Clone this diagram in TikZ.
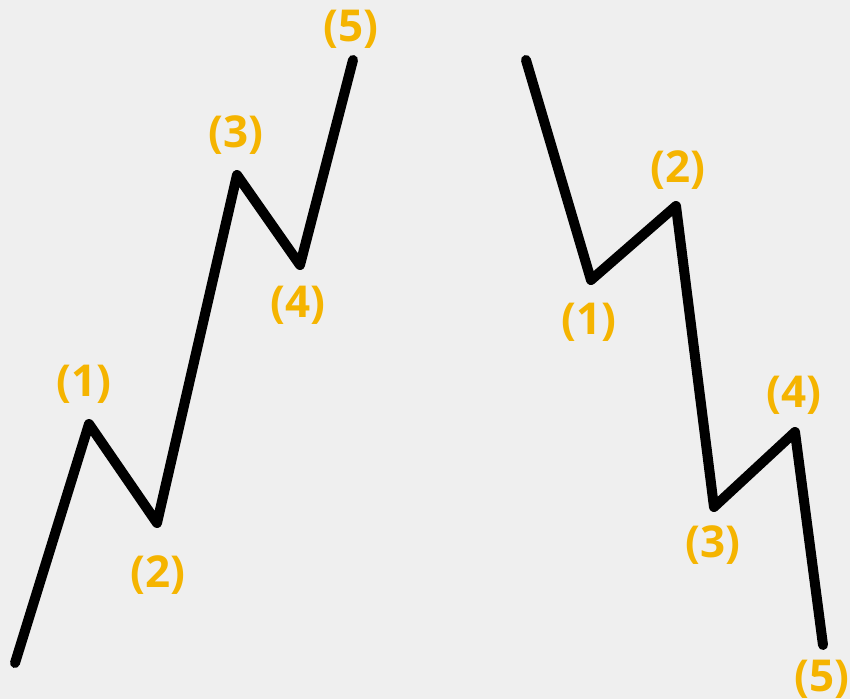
\documentclass[tikz,border=0pt]{standalone}
\usepackage{fontspec}
\setmainfont{Open Sans}
\definecolor{waveorange}{HTML}{F5B400}
\definecolor{bggray}{HTML}{EFEFEF}
\begin{document}
\begin{tikzpicture}[x=0.01cm,y=-0.01cm,
  wave/.style={line width=2.85pt,line cap=round,line join=round},
  lbl/.style={text=waveorange,font=\fontsize{12.5}{14}\selectfont\bfseries,inner sep=0pt}]
\fill[bggray] (0,0) rectangle (850,699);
\useasboundingbox (0,0) rectangle (850,699);
% impulse up
\coordinate (u0) at (15,663);
\coordinate (u1) at (89,424);
\coordinate (u2) at (157,523);
\coordinate (u3) at (237,175);
\coordinate (u4) at (300,265);
\coordinate (u5) at (353,60);
\draw[wave] (u0) -- (u1) -- (u2) -- (u3) -- (u4) -- (u5);
\node[lbl] (lu1) at (84,384) {(1)};
\node[lbl] (lu2) at (158,575) {(2)};
\node[lbl] (lu3) at (236,135) {(3)};
\node[lbl] (lu4) at (298,305) {(4)};
\node[lbl] (lu5) at (351,29) {(5)};
% impulse down
\coordinate (d0) at (526,60);
\coordinate (d1) at (591,280);
\coordinate (d2) at (676,206);
\coordinate (d3) at (714,507);
\coordinate (d4) at (795,432);
\coordinate (d5) at (823,645);
\draw[wave] (d0) -- (d1) -- (d2) -- (d3) -- (d4) -- (d5);
\node[lbl] (ld1) at (589,322) {(1)};
\node[lbl] (ld2) at (678,170) {(2)};
\node[lbl] (ld3) at (713,545) {(3)};
\node[lbl] (ld4) at (794,395) {(4)};
\node[lbl] (ld5) at (822,679) {(5)};
\end{tikzpicture}
\end{document}
